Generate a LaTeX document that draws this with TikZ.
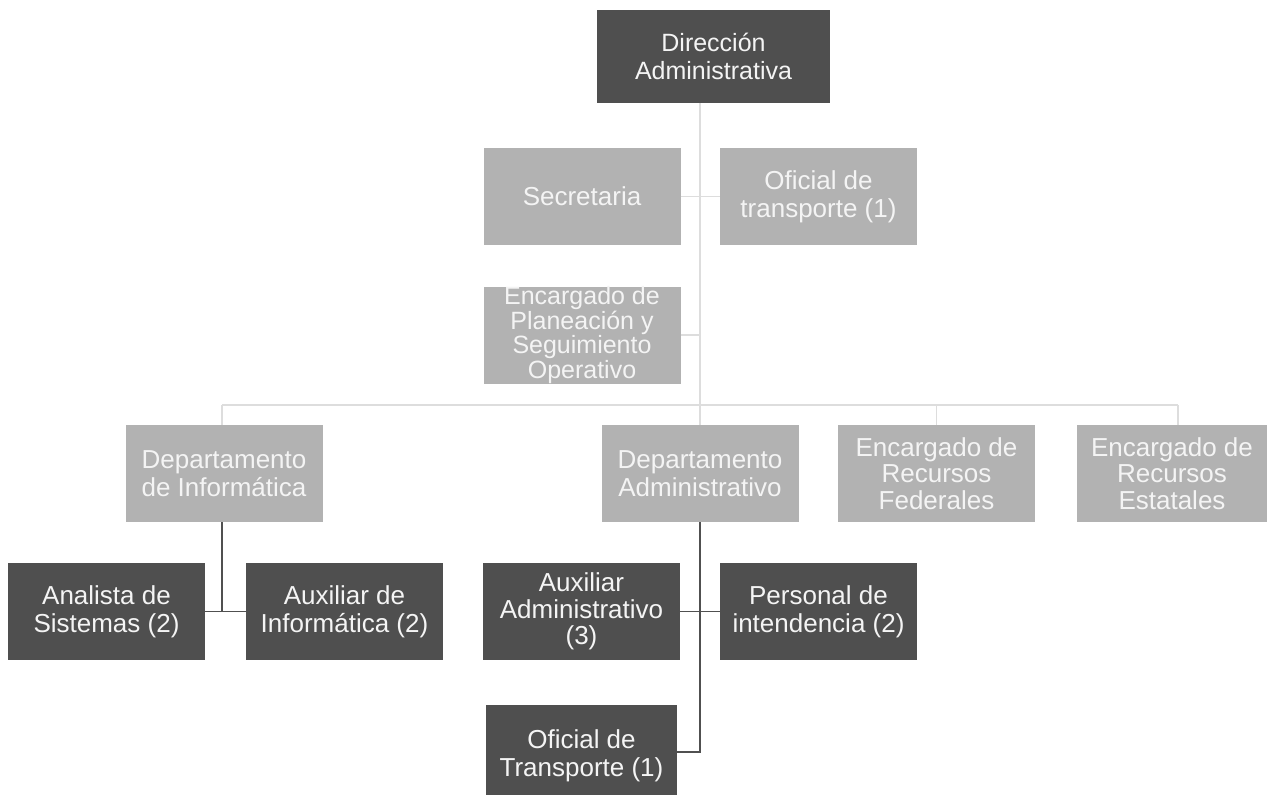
\documentclass[tikz,border=0pt]{standalone}
\usepackage{fontspec}
\setmainfont{Liberation Sans}
\definecolor{darkbox}{HTML}{4F4F4F}
\definecolor{lightbox}{HTML}{B2B2B2}
\definecolor{faintline}{HTML}{DDDDDD}
\definecolor{darkline}{HTML}{505050}
\definecolor{lighttext}{HTML}{F4F4F4}
\begin{document}
\begin{tikzpicture}[x=1pt,y=-1pt,
  boxbase/.style={rectangle, inner sep=0pt, align=center, text=lighttext,
    font=\fontsize{26}{28}\selectfont, minimum width=197pt, minimum height=97pt},
  darkbx/.style={boxbase, fill=darkbox},
  lightbx/.style={boxbase, fill=lightbox},
  faint/.style={draw=faintline, line width=1.2pt},
  strong/.style={draw=darkline, line width=1.6pt}]
\useasboundingbox[fill=white] (0,0) rectangle (1267,795);
% nodes
\node[darkbx, minimum width=233pt, minimum height=93pt, font=\fontsize{25}{28}\selectfont] (dir) at (713.5,56.5) {Dirección\\Administrativa};
\node[lightbx] (sec) at (582,196.5) {Secretaria};
\node[lightbx] (ofi) at (818.5,196.5) {Oficial de\\transporte (1)};
\node[lightbx, font=\fontsize{25}{24.5}\selectfont] (pla) at (582,335) {Encargado de\\Planeación y\\Seguimiento\\Operativo};
\node[lightbx] (dinf) at (224,473.5) {Departamento\\de Informática};
\node[lightbx] (dadm) at (700,473.5) {Departamento\\Administrativo};
\node[lightbx, font=\fontsize{26}{26.5}\selectfont] (fed) at (936.5,473.5) {Encargado de\\Recursos\\Federales};
\node[lightbx, minimum width=190pt, font=\fontsize{26}{26.5}\selectfont] (est) at (1172,473.5) {Encargado de\\Recursos\\Estatales};
\node[darkbx] (ana) at (106.5,611.5) {Analista de\\Sistemas (2)};
\node[darkbx] (auxi) at (344.5,611.5) {Auxiliar de\\Informática (2)};
\node[darkbx, font=\fontsize{26}{26.5}\selectfont] (auxa) at (581.5,611.5) {Auxiliar\\Administrativo\\(3)};
\node[darkbx] (per) at (818.5,611.5) {Personal de\\intendencia (2)};
\node[darkbx, minimum width=191pt, minimum height=102pt] (ofit) at (581.5,756) {Oficial de\\Transporte (1)};
% coordinates
\coordinate (hb) at (700,405);
\coordinate (sp) at (700,752);
% upper connectors
\draw[faint] (dir.south -| hb) -- (hb);
\draw[faint] (sec.east) -- (sec.east -| hb);
\draw[faint] (ofi.west) -- (ofi.west -| hb);
\draw[faint] (pla.east) -- (pla.east -| hb);
\draw[faint] ([xshift=-2pt]dinf.north |- hb) -- ([xshift=6pt]est.north |- hb);
\draw[faint] ([xshift=-2pt]dinf.north |- hb) -- ([xshift=-2pt]dinf.north);
\draw[faint] (dadm.north |- hb) -- (dadm.north);
\draw[faint] (fed.north |- hb) -- (fed.north);
\draw[faint] ([xshift=6pt]est.north |- hb) -- ([xshift=6pt]est.north);
% lower connectors: informatica
\draw[strong] ([xshift=-2pt]dinf.south) -- ([xshift=-2pt]dinf.south |- ana.east);
\draw[strong] (ana.east) -- (auxi.west);
% lower connectors: administrativo
\draw[strong] (dadm.south) -- (sp) -- (sp -| ofit.east);
\draw[strong] (auxa.east) -- (per.west);
\end{tikzpicture}
\end{document}
